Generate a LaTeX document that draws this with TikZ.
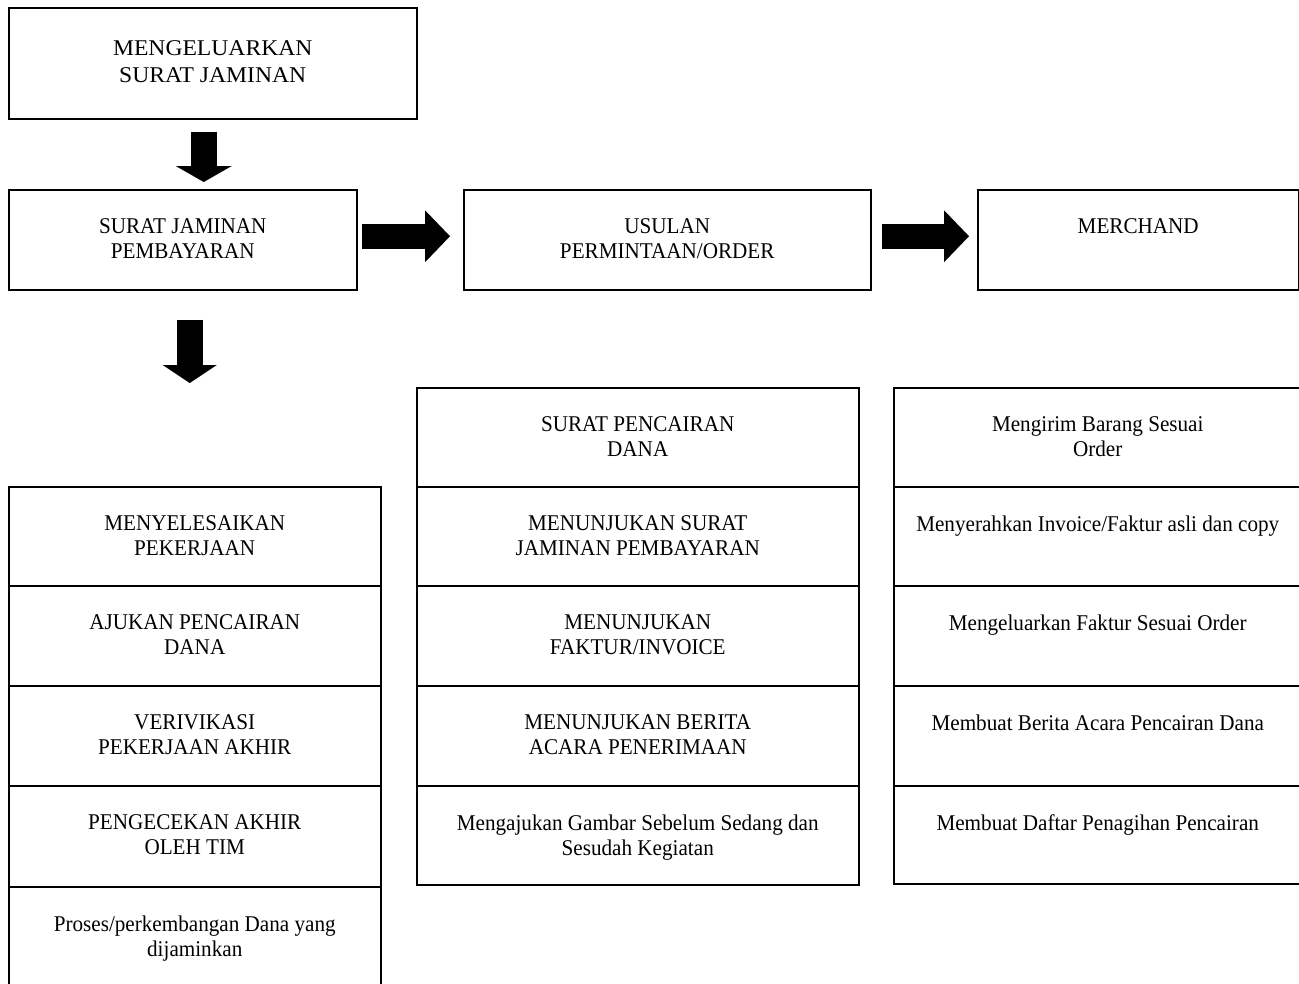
\documentclass[tikz,border=0pt]{standalone}
\usepackage{fontspec}
\setmainfont{Liberation Serif}[FakeStretch=0.94]
\newfontfamily\widefont{Liberation Serif}[FakeStretch=1.05]
\usetikzlibrary{arrows.meta}
\begin{document}
\begin{tikzpicture}[x=1pt,y=-1pt,
  cell/.style={draw=black, line width=1.5pt, rectangle, inner sep=0pt, anchor=north west},
  txt/.style={inner sep=0pt, align=center, anchor=north, font=\fontsize{22.5}{25}\selectfont},
  blk/.style={draw=black, line width=#1},
]
\useasboundingbox (0,0) rectangle (1299,983);
\clip (0,0) rectangle (1299,983);
\fill[white] (0,0) rectangle (1299,983);

% top row
\node[cell, minimum width=408pt, minimum height=111pt] (top) at (8,7) {};
\node[txt, font=\widefont\fontsize{22.5}{27}\selectfont] (ttop) at ([yshift=-33.5pt]top.north) {MENGELUARKAN\\SURAT JAMINAN};

\node[cell, minimum width=348pt, minimum height=100pt] (sjp) at (8,189) {};
\node[txt] (tsjp) at ([yshift=-29.5pt]sjp.north) {SURAT JAMINAN\\PEMBAYARAN};

\node[cell, minimum width=407pt, minimum height=100pt] (usul) at (463,189) {};
\node[txt] (tusul) at ([yshift=-29.5pt]usul.north) {USULAN\\PERMINTAAN/ORDER};

\node[cell, minimum width=321pt, minimum height=100pt] (merch) at (977,189) {};
\node[txt] (tmerch) at ([yshift=-29.5pt]merch.north) {MERCHAND};

% left column
\node[cell, minimum width=372pt, minimum height=99pt] (L1) at (8,486) {};
\node[cell, minimum width=372pt, minimum height=100pt] (L2) at (8,585) {};
\node[cell, minimum width=372pt, minimum height=100pt] (L3) at (8,685) {};
\node[cell, minimum width=372pt, minimum height=101pt] (L4) at (8,785) {};
\node[cell, minimum width=372pt, minimum height=120pt] (L5) at (8,886) {};
\node[txt] (tL1) at ([yshift=-29.5pt]L1.north) {MENYELESAIKAN\\PEKERJAAN};
\node[txt] (tL2) at ([yshift=-29.5pt]L2.north) {AJUKAN PENCAIRAN\\DANA};
\node[txt] (tL3) at ([yshift=-29.5pt]L3.north) {VERIVIKASI\\PEKERJAAN AKHIR};
\node[txt] (tL4) at ([yshift=-29.5pt]L4.north) {PENGECEKAN AKHIR\\OLEH TIM};
\node[txt] (tL5) at ([yshift=-29.5pt]L5.north) {Proses/perkembangan Dana yang\\dijaminkan};

% middle column
\node[cell, minimum width=442pt, minimum height=99pt] (M1) at (416,387) {};
\node[cell, minimum width=442pt, minimum height=99pt] (M2) at (416,486) {};
\node[cell, minimum width=442pt, minimum height=100pt] (M3) at (416,585) {};
\node[cell, minimum width=442pt, minimum height=100pt] (M4) at (416,685) {};
\node[cell, minimum width=442pt, minimum height=99pt] (M5) at (416,785) {};
\node[txt] (tM1) at ([yshift=-29.5pt]M1.north) {SURAT PENCAIRAN\\DANA};
\node[txt] (tM2) at ([yshift=-29.5pt]M2.north) {MENUNJUKAN SURAT\\JAMINAN PEMBAYARAN};
\node[txt] (tM3) at ([yshift=-29.5pt]M3.north) {MENUNJUKAN\\FAKTUR/INVOICE};
\node[txt] (tM4) at ([yshift=-29.5pt]M4.north) {MENUNJUKAN BERITA\\ACARA PENERIMAAN};
\node[txt] (tM5) at ([yshift=-29.5pt]M5.north) {Mengajukan Gambar Sebelum Sedang dan\\Sesudah Kegiatan};

% right column
\node[cell, minimum width=408pt, minimum height=99pt] (R1) at (893,387) {};
\node[cell, minimum width=408pt, minimum height=99pt] (R2) at (893,486) {};
\node[cell, minimum width=408pt, minimum height=100pt] (R3) at (893,585) {};
\node[cell, minimum width=408pt, minimum height=100pt] (R4) at (893,685) {};
\node[cell, minimum width=408pt, minimum height=98pt] (R5) at (893,785) {};
\node[txt] (tR1) at ([yshift=-29.5pt]R1.north) {Mengirim Barang Sesuai\\Order};
\node[txt] (tR2) at ([yshift=-29.5pt]R2.north) {Menyerahkan Invoice/Faktur asli dan copy};
\node[txt] (tR3) at ([yshift=-29.5pt]R3.north) {Mengeluarkan Faktur Sesuai Order};
\node[txt] (tR4) at ([yshift=-29.5pt]R4.north) {Membuat Berita Acara Pencairan Dana};
\node[txt] (tR5) at ([yshift=-29.5pt]R5.north) {Membuat Daftar Penagihan Pencairan};

% block arrows
\draw[blk=26pt, -{Triangle[length=16pt,width=56pt,line width=0pt]}]
  ([xshift=-9pt,yshift=-12pt]top.south) -- ([xshift=21pt,yshift=7pt]sjp.north);
\draw[blk=26pt, -{Triangle[length=18pt,width=54pt,line width=0pt]}]
  ([xshift=7pt,yshift=-29pt]sjp.south) -- ([xshift=-5pt,yshift=103pt]L1.north);
\draw[blk=25pt, -{Triangle[length=25pt,width=52pt,line width=0pt]}]
  ([xshift=4pt,yshift=3.5pt]sjp.east) -- ([xshift=-13pt,yshift=3.5pt]usul.west);
\draw[blk=25pt, -{Triangle[length=25pt,width=52pt,line width=0pt]}]
  ([xshift=10pt,yshift=3.5pt]usul.east) -- ([xshift=-8pt,yshift=3.5pt]merch.west);
\end{tikzpicture}
\end{document}
